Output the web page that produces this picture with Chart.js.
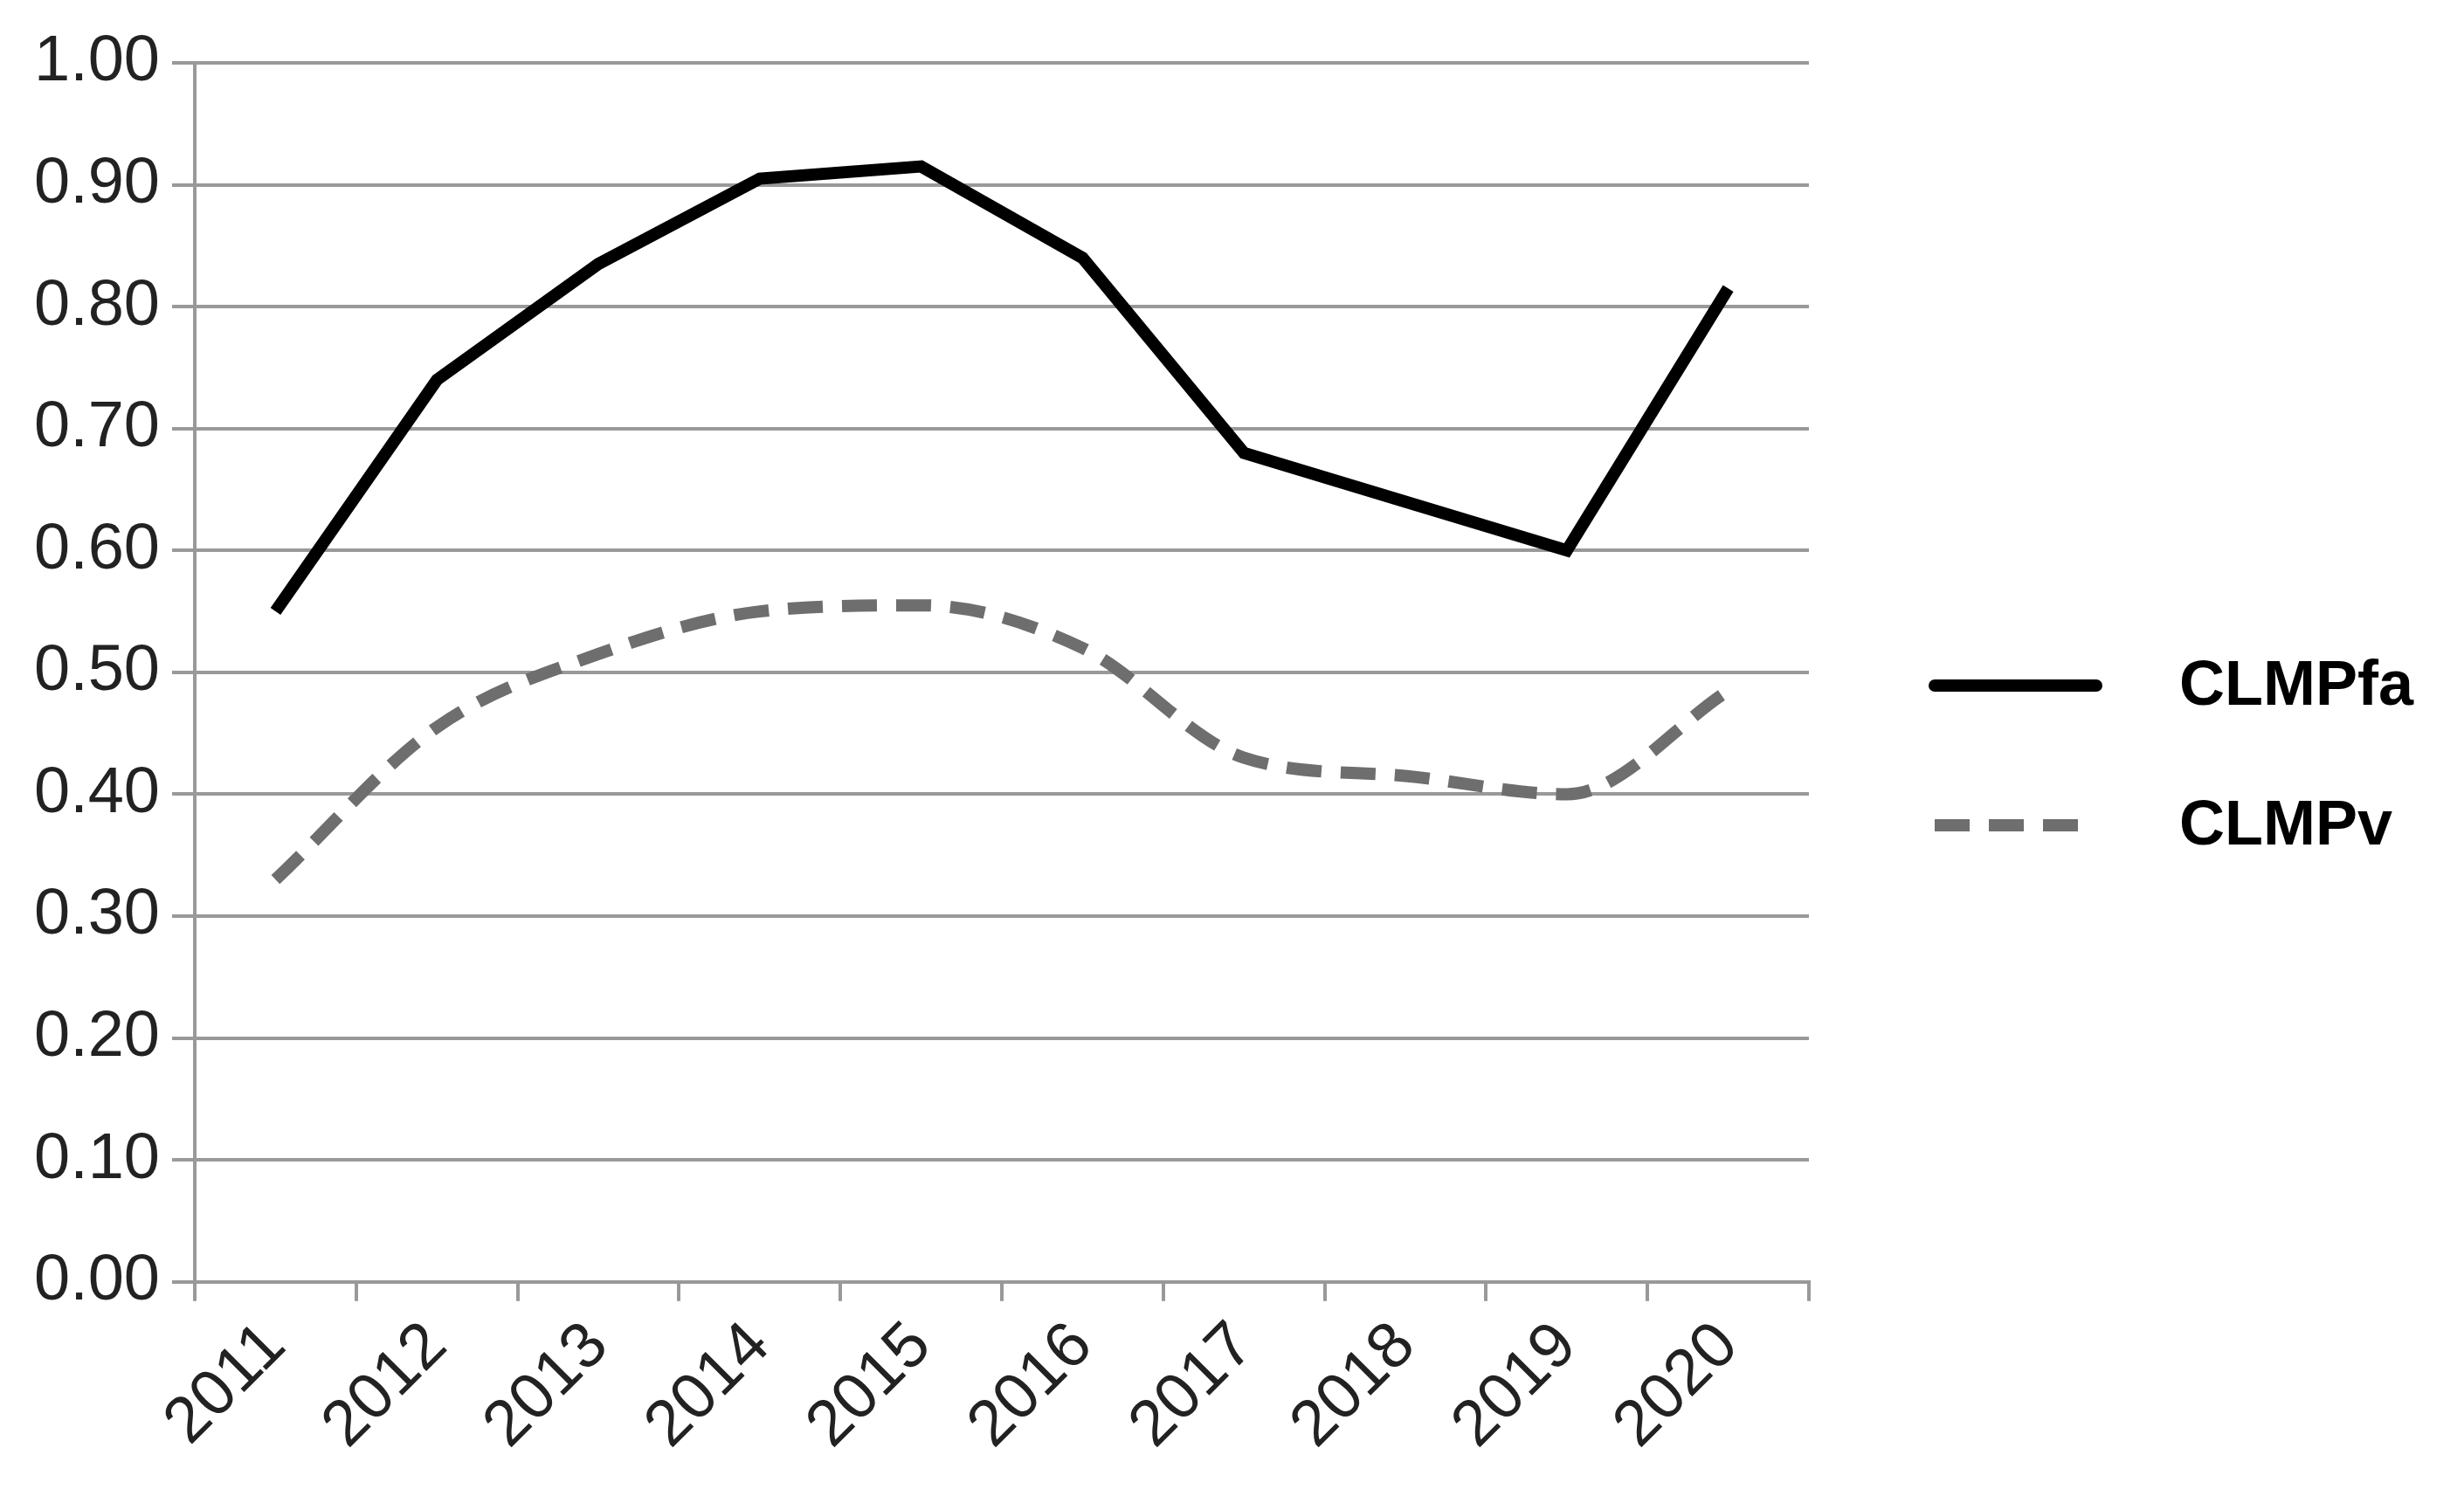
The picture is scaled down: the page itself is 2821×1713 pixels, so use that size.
<!DOCTYPE html>
<html>
<head>
<meta charset="utf-8">
<script src="https://cdn.jsdelivr.net/npm/chart.js@4"></script>
<style>
  html, body { margin: 0; padding: 0; background: #fff; }
  #wrap { width: 2821px; height: 1713px; }
</style>
</head>
<body>
<div id="wrap"><canvas id="myChart"></canvas></div>
<script>
var years = ['2011', '2012', '2013', '2014', '2015', '2016', '2017', '2018', '2019', '2020'];
var clmpFa = [0.55, 0.74, 0.835, 0.905, 0.915, 0.84, 0.68, 0.64, 0.60, 0.815];
var clmpV = [0.33, 0.455, 0.515, 0.55, 0.555, 0.52, 0.43, 0.415, 0.40, 0.485];
var yTicks = [0, 0.1, 0.2, 0.3, 0.4, 0.5, 0.6, 0.7, 0.8, 0.9, 1.0];

var fontFam = '"Liberation Sans", Arial, sans-serif';

// legend drawn on the right side, like the original
const sideLegend = {
    id: 'sideLegend',
    afterDraw(chart) {
        const c = chart.ctx;
        const items = chart.data.datasets;
        const x0 = 2215, x1 = 2400;
        const ys = [785, 945];
        items.forEach((ds, i) => {
            c.save();
            c.strokeStyle = ds.borderColor;
            c.lineWidth = ds.borderWidth;
            c.setLineDash(ds.borderDash || []);
            c.lineCap = ds.borderDash ? 'butt' : 'round';
            c.beginPath();
            c.moveTo(x0, ys[i]);
            c.lineTo(x1, ys[i]);
            c.stroke();
            c.setLineDash([]);
            c.fillStyle = '#000';
            c.font = 'bold 72px ' + fontFam;
            c.textBaseline = 'middle';
            c.fillText(ds.label, x1 + 95, ys[i] + 2);
            c.restore();
        });
    }
};

const ctx = document.getElementById('myChart');
new Chart(ctx, {
    type: 'line',
    data: {
        labels: years,
        datasets: [{
            label: 'CLMPfa',
            data: clmpFa,
            borderColor: '#000000',
            borderWidth: 14,
            pointRadius: 0,
            tension: 0
        }, {
            label: 'CLMPv',
            data: clmpV,
            borderColor: '#6e6e6e',
            borderWidth: 14,
            borderDash: [40, 22],
            pointRadius: 0,
            cubicInterpolationMode: 'monotone'
        }]
    },
    options: {
        responsive: true,
        maintainAspectRatio: false,
        animation: false,
        layout: { padding: { left: 25, right: 750, top: 72, bottom: 28 } },
        plugins: { legend: { display: false }, tooltip: { enabled: false } },
        scales: {
            x: {
                offset: true,
                grid: { offset: true, drawOnChartArea: false, tickLength: 22, color: '#999', lineWidth: 4 },
                border: { color: '#999', width: 4 },
                ticks: {
                    color: '#222', maxRotation: 45, minRotation: 45, padding: 8,
                    font: { size: 74, family: fontFam }
                }
            },
            y: {
                min: 0, max: 1,
                afterBuildTicks(axis) { axis.ticks = yTicks.map(v => ({ value: v })); },
                grid: { color: '#999', lineWidth: 4, tickLength: 26 },
                border: { color: '#999', width: 4 },
                ticks: {
                    color: '#222', padding: 14,
                    font: { size: 74, family: fontFam },
                    callback: v => v.toFixed(2)
                }
            }
        }
    },
    plugins: [sideLegend]
});
</script>
</body>
</html>
